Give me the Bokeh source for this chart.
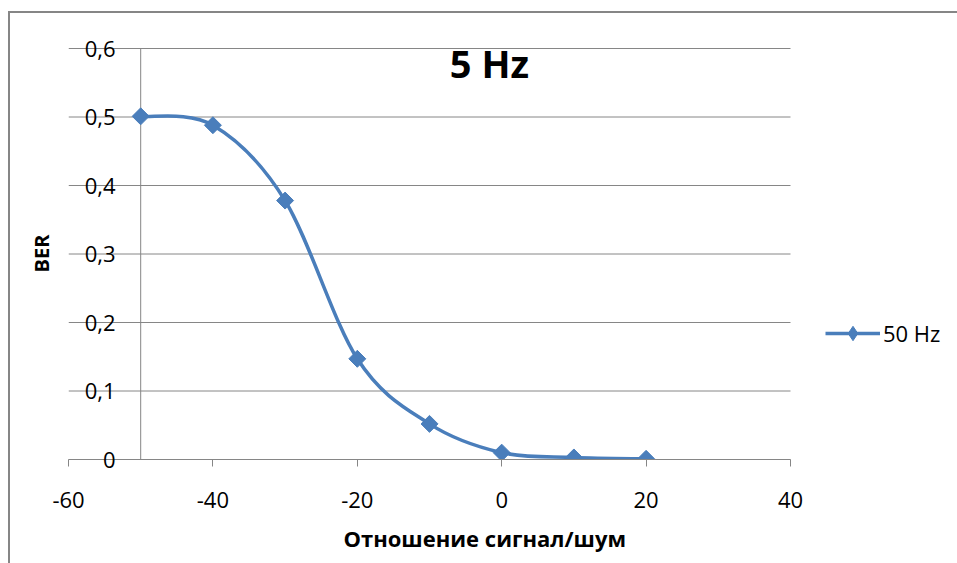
import numpy as np
from bokeh.plotting import figure
from bokeh.models import (Range1d, Label, Legend, LegendItem, Title,
                          ColumnDataSource, FixedTicker)
from bokeh.embed import file_html
from bokeh.resources import INLINE

# ---- data ----
snr = [-50, -40, -30, -20, -10, 0, 10, 20]
ber = [0.501, 0.488, 0.378, 0.147, 0.052, 0.010, 0.003, 0.001]
x_ticks = [-60, -40, -20, 0, 20, 40]
x_tick_labels = ["-60", "-40", "-20", "0", "20", "40"]
y_ticks = [0, 0.1, 0.2, 0.3, 0.4, 0.5, 0.6]
y_tick_labels = ["0", "0,1", "0,2", "0,3", "0,4", "0,5", "0,6"]
series_name = "50 Hz"
title_text = "5 Hz"
x_title = "Отношение сигнал/шум"
y_title = "BER"

FONT = "Open Sans"
BLUE = "#4a7ebb"
GRAY = "#868686"

W, H = 957, 563
LEFT, TOP, BOTTOM = 68, 47, 104
x_min, x_max = x_ticks[0], x_ticks[-1]
px_x = 722 / (x_max - x_min)            # pixels per x unit in the plot area
px_y = 411 / (y_ticks[-1] - y_ticks[0])  # pixels per y unit
x_end = x_min + (W - LEFT) / px_x        # frame runs to the right edge (room for legend)
y_end = y_ticks[-1] + 1 / px_y

p = figure(width=W, height=H, output_backend="svg", toolbar_location=None,
           x_range=Range1d(x_min, x_end), y_range=Range1d(y_ticks[0], y_end),
           min_border_left=LEFT, min_border_right=0,
           min_border_top=TOP, min_border_bottom=BOTTOM)
p.outline_line_color = None
p.background_fill_color = "white"
p.border_fill_color = None
# chart-area border (top and left edges visible, as in the cropped original)
p.styles = {"box-shadow": "inset 8px 11px 0 0 #ffffff, inset 10px 13px 0 0 #868686",
            "background-color": "white"}

# x axis
xa = p.xaxis[0]
xa.bounds = (x_min, x_max)
xa.ticker = FixedTicker(ticks=x_ticks)
xa.major_label_overrides = {t: l for t, l in zip(x_ticks, x_tick_labels)}
xa.axis_line_color = GRAY
xa.axis_line_width = 1
xa.major_tick_line_color = GRAY
xa.major_tick_out = 7
xa.major_tick_in = 0
xa.minor_tick_line_color = None
xa.major_label_standoff = 25
xa.major_label_text_font = FONT
xa.major_label_text_font_size = "22px"
xa.major_label_text_color = "black"

# y axis: only labels, pulled inside the plot area
ya = p.yaxis[0]
ya.ticker = FixedTicker(ticks=y_ticks)
ya.major_label_overrides = {t: l for t, l in zip(y_ticks, y_tick_labels)}
ya.axis_line_color = None
ya.major_tick_line_color = None
ya.minor_tick_line_color = None
ya.major_tick_out = 0
ya.major_tick_in = 0
ya.major_label_standoff = -47
ya.major_label_text_font = FONT
ya.major_label_text_font_size = "22px"
ya.major_label_text_color = "black"
ya.axis_label = y_title
ya.axis_label_text_font = FONT
ya.axis_label_text_font_size = "20px"
ya.axis_label_text_font_style = "bold"
ya.axis_label_text_color = "black"
ya.axis_label_standoff = 27

# grid lines only across the x range -60..40
p.xgrid.visible = False
p.ygrid.visible = False
p.segment(x0=[x_min] * len(y_ticks), x1=[x_max] * len(y_ticks), y0=y_ticks, y1=y_ticks,
          line_color=GRAY, line_width=1)

# vertical axis line at x=-50
p.segment(x0=[snr[0]], x1=[snr[0]], y0=[y_ticks[0]], y1=[y_ticks[-1]],
          line_color=GRAY, line_width=1)

# smooth curve (Catmull-Rom style bezier like Excel smoothing)
n = len(snr)
x0, y0, x1, y1, cx0, cy0, cx1, cy1 = ([] for _ in range(8))
for i in range(n - 1):
    pa = i - 1 if i > 0 else i
    pd = i + 2 if i + 2 < n else i + 1
    x0.append(snr[i]); y0.append(ber[i])
    x1.append(snr[i + 1]); y1.append(ber[i + 1])
    cx0.append(snr[i] + (snr[i + 1] - snr[pa]) / 6)
    cy0.append(ber[i] + (ber[i + 1] - ber[pa]) / 6)
    cx1.append(snr[i + 1] - (snr[pd] - snr[i]) / 6)
    cy1.append(ber[i + 1] - (ber[pd] - ber[i]) / 6)
bsrc = ColumnDataSource(dict(x0=x0, y0=y0, x1=x1, y1=y1, cx0=cx0, cy0=cy0, cx1=cx1, cy1=cy1))
r_line = p.bezier(x0="x0", y0="y0", x1="x1", y1="y1", cx0="cx0", cy0="cy0",
                  cx1="cx1", cy1="cy1", source=bsrc, line_color=BLUE, line_width=3.5)
# diamond used for the legend symbol (hidden under the square-diamond markers)
r_leg = p.scatter(snr, ber, marker="diamond", size=12,
                  fill_color=BLUE, line_color=BLUE, line_width=1)
# Excel-like diamond markers: squares turned by 45 degrees
r_pts = p.scatter(snr, ber, marker="square", angle=np.pi / 4, size=12,
                  fill_color=BLUE, line_color=BLUE, line_width=1)

# legend (inside the widened frame, right of the plot area)
legend = Legend(items=[LegendItem(label=series_name, renderers=[r_line, r_leg])],
                location=(757, 108), padding=0, margin=0, border_line_color=None,
                background_fill_alpha=0, glyph_width=55, glyph_height=36,
                label_standoff=3, label_text_font=FONT, label_text_font_size="22px",
                label_height=20, label_text_color="black")
p.add_layout(legend)

# title inside plot area
p.add_layout(Label(x=-1.7, y=0.579, text=title_text, text_align="center",
                   text_baseline="middle", text_font=FONT, text_font_size="38px",
                   text_font_style="bold", text_color="black"))
# x axis title (below)
p.add_layout(Title(text=x_title, align="left", offset=275, standoff=21,
                   text_font=FONT, text_font_size="22px", text_font_style="bold",
                   text_color="black"), "below")

open("out.html", "w").write(file_html(p, INLINE))
